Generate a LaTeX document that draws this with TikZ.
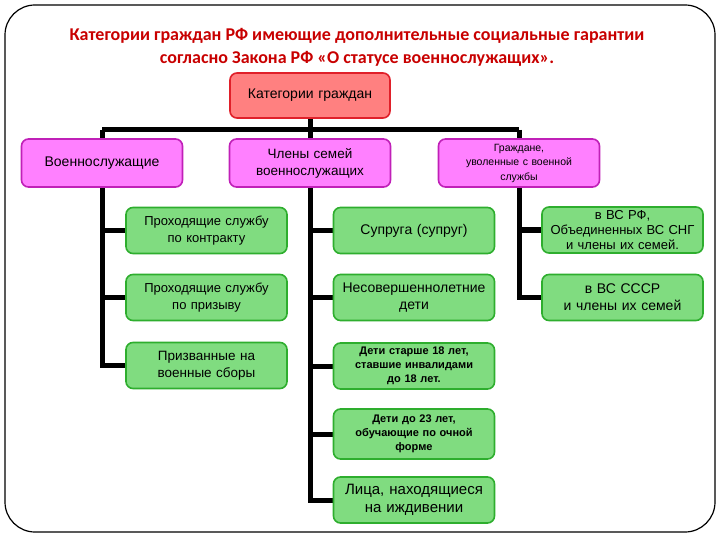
\documentclass[tikz,border=0pt]{standalone}
\usepackage{fontspec}
\setmainfont{Liberation Sans}
\newfontfamily\titlefont{Carlito}
\usetikzlibrary{backgrounds}
\definecolor{titlered}{HTML}{C80000}
\definecolor{rootfill}{HTML}{FF8080}
\definecolor{rootline}{HTML}{E0202A}
\definecolor{magfill}{HTML}{FF80FF}
\definecolor{magline}{HTML}{C020B8}
\definecolor{grfill}{HTML}{80DC80}
\definecolor{grline}{HTML}{2EAE2E}
\tikzset{
  box/.style={draw, line width=1.6pt, rounded corners=7pt, align=center, inner sep=0pt,
    font=\fontsize{14}{17}\selectfont},
  rootbox/.style={box, fill=rootfill, draw=rootline, minimum width=160pt, minimum height=45pt, text width=150pt},
  magbox/.style={box, fill=magfill, draw=magline, minimum width=161pt, minimum height=48pt, text width=150pt},
  grbox/.style={box, fill=grfill, draw=grline, minimum width=161pt, minimum height=46pt, text width=155pt},
  small/.style={font=\fontsize{10.5}{14.5}\selectfont},
  smallbold/.style={font=\fontsize{11}{14}\selectfont\bfseries},
  conn/.style={line width=5pt, black},
  frame/.style={draw=black, line width=1.2pt, rounded corners=30pt}
}
\begin{document}
\begin{tikzpicture}[x=1pt,y=-1pt]
\useasboundingbox (0,0) rectangle (720,540);
\draw[frame] (5,5) rectangle (715,532);
\node[titlered, font=\titlefont\fontsize{18}{23}\selectfont\bfseries, align=center] (title) at (357,47)
  {Категории граждан РФ имеющие дополнительные социальные гарантии\\согласно Закона РФ «О статусе военнослужащих».};

\node[rootbox] (root) at (310,95.5) {Категории граждан};
\coordinate (bus) at (310,130);

\node[magbox] (mil) at (102,163) {Военнослужащие};
\node[magbox, font=\fontsize{13.5}{17}\selectfont] (fam) at (310,163) {Члены семей\\военнослужащих};
\node[magbox, small] (ret) at (519,163) {Граждане,\\уволенные с военной\\службы};

\node[grbox, font=\fontsize{13}{17}\selectfont] (c1a) at (206.5,230.5) {Проходящие службу\\по контракту};
\node[grbox, font=\fontsize{13}{17}\selectfont] (c1b) at (206.5,297.5) {Проходящие службу\\по призыву};
\node[grbox, font=\fontsize{13.5}{17}\selectfont] (c1c) at (206.5,365.5) {Призванные на\\военные сборы};

\node[grbox] (c2a) at (414,230.5) {Супруга (супруг)};
\node[grbox] (c2b) at (414,297.5) {Несовершеннолетние\\дети};
\node[grbox, smallbold] (c2c) at (414,366) {Дети старше 18 лет,\\ставшие инвалидами\\до 18 лет.};
\node[grbox, smallbold, minimum height=50pt] (c2d) at (414,434) {Дети до 23 лет,\\обучающие по очной\\форме};
\node[grbox, font=\fontsize{15}{17.5}\selectfont] (c2e) at (414,500) {Лица, находящиеся\\на иждивении};

\node[grbox, font=\fontsize{13}{15}\selectfont] (c3a) at (622.5,230) {в ВС РФ,\\Объединенных ВС СНГ\\и члены их семей.};
\node[grbox] (c3b) at (622.5,297.5) {в ВС СССР\\и члены их семей};

\begin{pgfonlayer}{background}
  \draw[conn] (root.center) -- (bus);
  \draw[conn] (mil.center |- bus) -- (ret.center |- bus);
  \draw[conn] (mil.center |- bus) |- (c1a.west);
  \draw[conn] (mil.center |- bus) |- (c1b.west);
  \draw[conn] (mil.center |- bus) |- (c1c.west);
  \draw[conn] (bus) |- (c2a.west);
  \draw[conn] (bus) |- (c2b.west);
  \draw[conn] (bus) |- (c2c.west);
  \draw[conn] (bus) |- (c2d.west);
  \draw[conn] (bus) |- (c2e.west);
  \draw[conn] (ret.center |- bus) |- (c3a.west);
  \draw[conn] (ret.center |- bus) |- (c3b.west);
\end{pgfonlayer}
\end{tikzpicture}
\end{document}
